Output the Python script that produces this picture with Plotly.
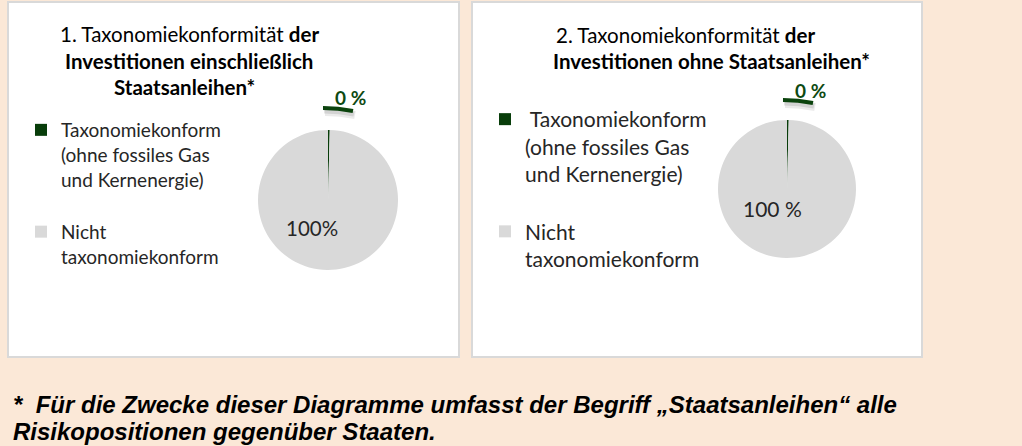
import plotly.graph_objects as go

W, H = 1022, 446

# ---- data ----
categories_incl = ["Taxonomiekonform<br>(ohne fossiles Gas<br>und Kernenergie)<br> ",
                   "Nicht<br>taxonomiekonform"]
categories_excl = ["&nbsp;Taxonomiekonform<br>(ohne fossiles Gas<br>und Kernenergie)<br> ",
                   "Nicht <br>taxonomiekonform"]
values_incl = [0.4, 99.6]          # 1. incl. sovereign bonds (%)
values_excl = [0.4, 99.6]          # 2. excl. sovereign bonds (%)
labels_incl = ["0 %", "100%"]
labels_excl = ["0 %", "100 %"]
colors = ["#083D0A", "#D9D9D9"]

title_incl = ["1. Taxonomiekonformität <b>der</b>",
              "<b>Investitionen einschließlich</b>",
              "<b>Staatsanleihen*</b>"]
title_excl = ["2. Taxonomiekonformität <b>der</b>",
              "<b>Investitionen ohne Staatsanleihen*</b>"]
footnote = ["<b><i>*  Für die Zwecke dieser Diagramme umfasst der Begriff „Staatsanleihen“ alle</i></b>",
            "<b><i>Risikopositionen gegenüber Staaten.</i></b>"]

FONT = "Lato, 'Open Sans', sans-serif"
TXT = "#262626"


def px(x):
    return x / W


def py(y):
    return 1 - y / H


# pie geometry (pixels)
pies = [
    dict(values=values_incl, labels=labels_incl, cats=categories_incl,
         cx=328, cy=200, r=70, legend="legend",
         small=(350, 98), big=(312, 228), bigsize=20.5),
    dict(values=values_excl, labels=labels_excl, cats=categories_excl,
         cx=787, cy=189, r=69, legend="legend2",
         small=(810, 90), big=(772, 208), bigsize=21),
]

fig = go.Figure()
for p in pies:
    fig.add_trace(go.Pie(
        labels=p["cats"], values=p["values"], sort=False, direction="clockwise",
        rotation=0, marker=dict(colors=colors, line=dict(width=0)),
        textinfo="none", hovertemplate="%{label}: %{value}%<extra></extra>",
        domain=dict(x=[px(p["cx"] - p["r"]), px(p["cx"] + p["r"])],
                    y=[py(p["cy"] + p["r"]), py(p["cy"] - p["r"])]),
        legend=p["legend"], showlegend=True,
    ))

shapes = []
# panels
for x0, x1 in [(8, 459), (472, 922)]:
    shapes.append(dict(type="rect", xref="paper", yref="paper",
                       x0=px(x0), x1=px(x1), y0=py(357), y1=py(2),
                       fillcolor="white", line=dict(color="#D9D9D9", width=2),
                       layer="below"))

annotations = []


def add_text(txt, x, y, size, color, xanchor="center", family=FONT):
    annotations.append(dict(text=txt, x=px(x), y=py(y), xref="paper", yref="paper",
                            showarrow=False, xanchor=xanchor, yanchor="middle",
                            font=dict(family=family, size=size, color=color)))


# titles
for txt, x, y in zip(title_incl, [189, 189, 184], [34, 61, 87]):
    add_text(txt, x, y, 20.5, "black")
for txt, x, y in zip(title_excl, [685, 711], [35, 61]):
    add_text(txt, x, y, 20.5, "black")

# data labels
for p in pies:
    sx, sy = p["small"]
    bx, by = p["big"]
    add_text("<b>" + p["labels"][0] + "</b>", sx, sy, 19, "#0E4A12")
    add_text(p["labels"][1], bx, by, p["bigsize"], TXT)
    # leader line with soft shadow
    x0, y0 = sx - 27, sy + 10
    x1, y1 = sx + 3, sy + 13
    for dx, dy, col, w in [(2, 4, "rgba(0,0,0,0.08)", 8), (1, 3, "rgba(0,0,0,0.10)", 5),
                           (0, 0, "#0B430D", 4)]:
        path = "M {:.5f},{:.5f} Q {:.5f},{:.5f} {:.5f},{:.5f}".format(
            px(x0 + dx), py(y0 + dy), px((x0 + x1) / 2 + dx), py(y0 + dy),
            px(x1 + dx), py(y1 + dy))
        shapes.append(dict(type="path", xref="paper", yref="paper", path=path,
                           line=dict(color=col, width=w)))

# footnote
for txt, y in zip(footnote, [404, 431]):
    add_text(txt, 11, y, 24, "black", xanchor="left",
             family="'Liberation Sans', Arial, sans-serif")

legend_style = dict(bgcolor="rgba(0,0,0,0)", xanchor="left", yanchor="top",
                    valign="top", itemclick=False, itemdoubleclick=False,
                    tracegroupgap=0)

fig.update_layout(
    width=W, height=H, margin=dict(l=0, r=0, t=0, b=0),
    paper_bgcolor="#FBE8D7", plot_bgcolor="#FBE8D7",
    shapes=shapes, annotations=annotations,
    legend=dict(x=px(21), y=py(111), font=dict(family=FONT, size=19, color=TXT),
                **legend_style),
    legend2=dict(x=px(485), y=py(99), font=dict(family=FONT, size=21, color=TXT),
                 **legend_style),
    hovermode="closest",
)

fig.write_html("out.html", config={"displayModeBar": False},
               post_script="document.body.style.margin='0';")
